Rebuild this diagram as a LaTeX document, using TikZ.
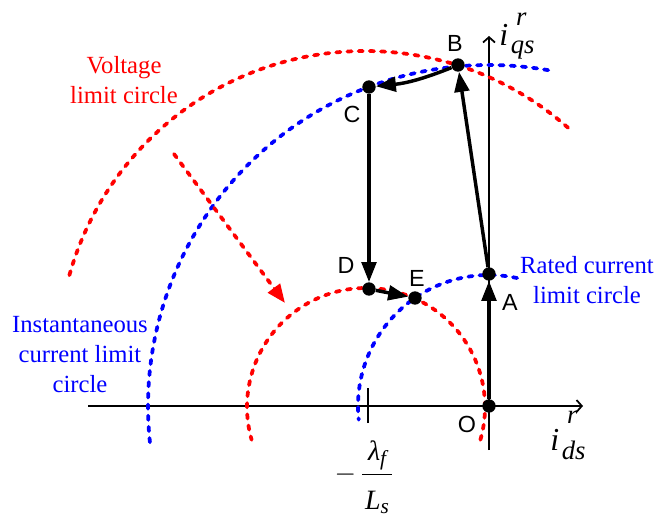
\documentclass[tikz,border=0pt]{standalone}
\usepackage{fontspec}
\usepackage{amsmath}
\setmainfont{Liberation Serif}
\newfontfamily\ptfont{Liberation Sans}
\usetikzlibrary{arrows.meta}
\DeclareMathSizes{21}{21}{17}{14}
\definecolor{vred}{RGB}{255,0,0}
\definecolor{cblue}{RGB}{0,0,255}

% axis label: i with superscript #1, subscript #2, raise #3, drop #4
\newcommand{\curlbl}[4]{{\fontsize{24}{24}\selectfont\itshape i}\hspace{2pt}%
  \rlap{\hspace{4pt}\raisebox{#3}{\fontsize{20}{20}\selectfont\itshape #1}}%
  \raisebox{-#4}{\fontsize{20}{20}\selectfont\itshape #2}}

\tikzset{
  axisline/.style={line width=1.3pt,-{Straight Barb[length=4pt,width=9pt]}},
  reddot/.style={vred,line width=2.8pt,line cap=round,dash pattern=on 3.2pt off 5.2pt},
  bluedot/.style={cblue,line width=2.8pt,line cap=round,dash pattern=on 3.2pt off 5.2pt},
  trj/.style={line width=2.6pt,-{Triangle[length=15pt,width=11pt]}},
  pnt/.style={circle,fill=black,inner sep=0pt,minimum size=10pt},
  ptlbl/.style={font=\ptfont\fontsize{17.5}{20}\selectfont},
  ctxt/.style={align=center,font=\fontsize{18.5}{22.5}\selectfont},
  mtxt/.style={font=\fontsize{21}{25}\selectfont,inner sep=0pt}
}

\begin{document}
\begin{tikzpicture}[x=0.75pt,y=0.75pt,yscale=-1,xscale=1]
\useasboundingbox (0,0) rectangle (657,518);

%Axes
\coordinate (xl) at (88,406);
\coordinate (xr) at (583,406);
\coordinate (yb) at (489,450);
\coordinate (yt) at (489,36);
\draw[axisline] (xl) -- (xr);
\draw[axisline] (yb) -- (yt);
%Tick at -lambda_f/L_s
\coordinate (tkb) at (368,423);
\coordinate (tkt) at (368,388);
\draw[line width=1.3pt] (tkb) -- (tkt);

%Centres of the circles
\coordinate (Oc) at (489,406);
\coordinate (Vc) at (365,358);
\coordinate (vc) at (366,407);
%Instantaneous current limit circle
\draw[bluedot] (Oc) ++(-80:341) arc[start angle=-80,end angle=-187,radius=341];
%Rated current limit circle
\draw[bluedot] (Oc) ++(-77.6:131) arc[start angle=-77.6,end angle=-186,radius=131];
%Voltage limit circle (large)
\draw[reddot] (Vc) ++(-48.6:307) arc[start angle=-48.6,end angle=-164.9,radius=307];
%Voltage limit circle (small)
\draw[reddot] (vc) ++(16:119) arc[start angle=16,end angle=-196,radius=119];
%Shrinking arrow
\coordinate (sh1) at (174,154);
\coordinate (sh2) at (285,303);
\draw[reddot,-{Triangle[length=14pt,width=11pt]}] (sh1) -- (sh2);

%Operating points
\node[pnt] (O) at (489,406) {};
\node[pnt] (A) at (489,274) {};
\node[pnt] (B) at (458,65) {};
\node[pnt] (C) at (369,87) {};
\node[pnt] (D) at (369,289) {};
\node[pnt] (E) at (415,298) {};

%Trajectory
\draw[trj] (O) -- (A);
\draw[trj] (A) -- (B);
\draw[trj] (B) to[bend right=8] (C);
\draw[trj] (C) -- (D);
\draw[trj] (D) -- (E);

% Text Node
\node[ptlbl] (lO) at (467,424) {O};
\node[ptlbl] (lA) at (510,302) {A};
\node[ptlbl] (lB) at (455,43) {B};
\node[ptlbl] (lC) at (352,114) {C};
\node[ptlbl] (lD) at (346,265) {D};
\node[ptlbl] (lE) at (417,278) {E};
% Text Node
\node[ctxt,vred] (vlim) at (124,80) {Voltage\\limit circle};
\node[ctxt,cblue] (ilim) at (80,355) {Instantaneous\\current limit\\circle};
\node[ctxt,cblue] (rlim) at (587,280) {Rated current\\limit circle};
% Text Node
\node[mtxt,anchor=base west] (iq) at (499,45) {\curlbl{r}{qs}{15pt}{6pt}};
\node[mtxt,anchor=base west] (id) at (550,450) {\curlbl{r}{ds}{20pt}{7pt}};
\node[mtxt,anchor=base] (lam) at (364,481) {$\displaystyle -\,\frac{\hspace{2pt}\textit{λ}\raisebox{-4pt}{\fontsize{16}{16}\selectfont\itshape f}\hspace{2pt}}{\rule{0pt}{24pt}\hspace{2pt}\textit{L}\raisebox{-2.5pt}{\fontsize{16}{16}\selectfont\itshape s}\hspace{2pt}}$};

\end{tikzpicture}
\end{document}
